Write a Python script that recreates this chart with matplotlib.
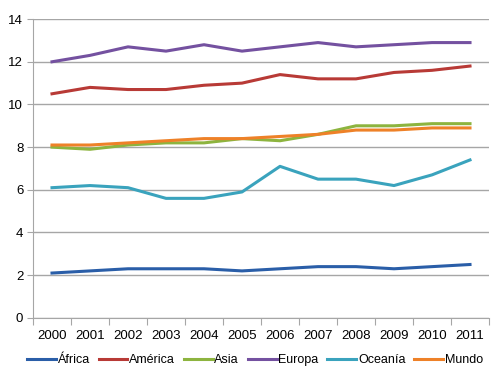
import matplotlib.pyplot as plt
import numpy as np

plt.rcParams['font.family'] = ['Liberation Sans', 'DejaVu Sans']
plt.rcParams['font.size'] = 9.5

years = ['2000', '2001', '2002', '2003', '2004', '2005',
         '2006', '2007', '2008', '2009', '2010', '2011']

africa = [2.1, 2.2, 2.3, 2.3, 2.3, 2.2, 2.3, 2.4, 2.4, 2.3, 2.4, 2.5]
america = [10.5, 10.8, 10.7, 10.7, 10.9, 11.0, 11.4, 11.2, 11.2, 11.5, 11.6, 11.8]
asia = [8.0, 7.9, 8.1, 8.2, 8.2, 8.4, 8.3, 8.6, 9.0, 9.0, 9.1, 9.1]
europa = [12.0, 12.3, 12.7, 12.5, 12.8, 12.5, 12.7, 12.9, 12.7, 12.8, 12.9, 12.9]
oceania = [6.1, 6.2, 6.1, 5.6, 5.6, 5.9, 7.1, 6.5, 6.5, 6.2, 6.7, 7.4]
mundo = [8.1, 8.1, 8.2, 8.3, 8.4, 8.4, 8.5, 8.6, 8.8, 8.8, 8.9, 8.9]

series = [('África', africa, '#2a5ea8'),
          ('América', america, '#b83a36'),
          ('Asia', asia, '#8db43f'),
          ('Europa', europa, '#7451a0'),
          ('Oceanía', oceania, '#3aa3bd'),
          ('Mundo', mundo, '#ee8128')]

fig = plt.figure(figsize=(5, 3.9), dpi=100)
ax = fig.add_axes([0.066, 0.185, 0.912, 0.766])

x = np.arange(len(years))
for name, vals, col in series:
    ax.plot(x, vals, color=col, linewidth=2.2, label=name)

ax.set_xlim(-0.5, len(years) - 0.5)
ax.set_ylim(0, 14)
ax.set_yticks(range(0, 15, 2))
ax.yaxis.grid(True, color='#a6a6a6', linewidth=1)
ax.set_axisbelow(True)

ax.set_xticks(np.arange(-0.5, len(years), 1))
ax.set_xticklabels([])
ax.set_xticks(x, minor=True)
ax.set_xticklabels(years, minor=True)
ax.tick_params(axis='x', which='major', length=5, color='#a6a6a6')
ax.tick_params(axis='x', which='minor', length=0, pad=9)
ax.tick_params(axis='y', length=4, color='#a6a6a6', pad=3)

for s in ['top', 'right']:
    ax.spines[s].set_visible(False)
for s in ['left', 'bottom']:
    ax.spines[s].set_color('#a6a6a6')

fig.legend(loc='center', bbox_to_anchor=(0.51, 0.077), ncol=6, frameon=False,
           fontsize=9, handlelength=2.3, handletextpad=0.15, columnspacing=0.7)

fig.savefig('out.png', dpi=100)
